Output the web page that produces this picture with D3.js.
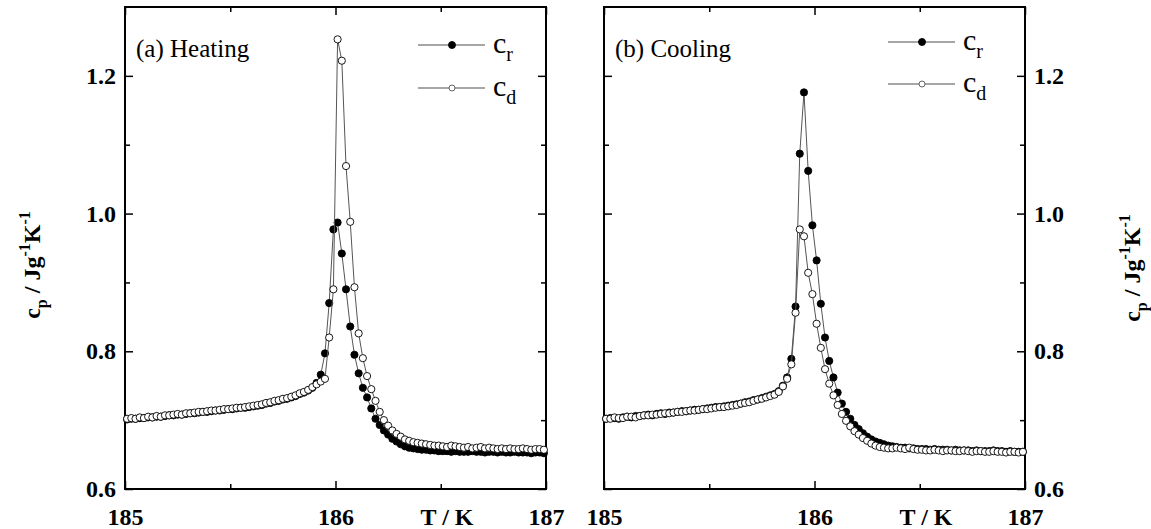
<!DOCTYPE html>
<html lang="en">
<head>
<meta charset="utf-8">
<title>cp heating / cooling</title>
<script src="https://cdn.jsdelivr.net/npm/d3@7"></script>
<style>
  * { margin: 0; padding: 0; }
  body { background: white; }
  svg { display: block; }
  .axis text { font-family: "Liberation Serif", "DejaVu Serif", serif; font-size: 24px; font-weight: bold; fill: black; }
  .axis line { stroke: black; stroke-width: 1.5px; }
  .axis path { display: none; }
  .frame { fill: none; stroke: black; stroke-width: 2px; }
  .curve { fill: none; stroke: #555; stroke-width: 1px; }
  .lbl { font-family: "Liberation Serif", "DejaVu Serif", serif; fill: black; }
</style>
</head>
<body>
<script>
// temperature grid (K)
var temps = [
  185.01,185.03,185.05,185.07,185.09,185.11,185.13,185.15,185.17,185.19,
  185.21,185.23,185.25,185.27,185.29,185.31,185.33,185.35,185.37,185.39,
  185.41,185.43,185.45,185.47,185.49,185.51,185.53,185.55,185.57,185.59,
  185.61,185.63,185.65,185.67,185.69,185.71,185.73,185.75,185.77,185.79,
  185.81,185.83,185.85,185.87,185.89,185.91,185.93,185.95,185.97,185.99,
  186.01,186.03,186.05,186.07,186.09,186.11,186.13,186.15,186.17,186.19,
  186.21,186.23,186.25,186.27,186.29,186.31,186.33,186.35,186.37,186.39,
  186.41,186.43,186.45,186.47,186.49,186.51,186.53,186.55,186.57,186.59,
  186.61,186.63,186.65,186.67,186.69,186.71,186.73,186.75,186.77,186.79,
  186.81,186.83,186.85,186.87,186.89,186.91,186.93,186.95,186.97,186.99
];

// (a) heating, c_r
var heatR = [
  0.701,0.702,0.702,0.703,0.703,0.704,0.704,0.705,0.705,0.706,
  0.707,0.707,0.708,0.708,0.709,0.710,0.710,0.711,0.712,0.712,
  0.713,0.714,0.714,0.715,0.716,0.716,0.717,0.718,0.718,0.719,
  0.720,0.721,0.722,0.724,0.725,0.727,0.728,0.730,0.731,0.733,
  0.735,0.738,0.740,0.743,0.747,0.754,0.766,0.797,0.870,0.977,
  0.987,0.942,0.890,0.836,0.795,0.768,0.747,0.733,0.717,0.702,
  0.693,0.685,0.679,0.673,0.669,0.665,0.662,0.660,0.659,0.658,
  0.657,0.657,0.656,0.656,0.655,0.655,0.655,0.654,0.655,0.654,
  0.654,0.654,0.655,0.654,0.654,0.653,0.654,0.654,0.653,0.654,
  0.653,0.653,0.654,0.653,0.653,0.653,0.652,0.653,0.653,0.652
];

// (a) heating, c_d
var heatD = [
  0.702,0.703,0.702,0.704,0.703,0.705,0.704,0.706,0.705,0.707,
  0.707,0.708,0.709,0.708,0.710,0.710,0.711,0.712,0.712,0.713,
  0.714,0.714,0.715,0.716,0.716,0.717,0.718,0.718,0.719,0.720,
  0.721,0.722,0.723,0.725,0.726,0.728,0.729,0.731,0.732,0.734,
  0.736,0.739,0.741,0.744,0.748,0.752,0.756,0.760,0.820,0.890,
  1.253,1.222,1.069,0.988,0.893,0.826,0.790,0.764,0.745,0.728,
  0.712,0.700,0.692,0.685,0.680,0.676,0.672,0.670,0.668,0.667,
  0.666,0.665,0.664,0.663,0.663,0.662,0.661,0.663,0.662,0.661,
  0.660,0.661,0.659,0.660,0.661,0.659,0.660,0.659,0.658,0.659,
  0.658,0.659,0.658,0.658,0.659,0.658,0.657,0.658,0.658,0.657
];

// (b) cooling, c_r
var coolR = [
  0.702,0.703,0.703,0.702,0.704,0.705,0.704,0.706,0.706,0.707,
  0.708,0.707,0.709,0.710,0.709,0.711,0.711,0.712,0.713,0.713,
  0.714,0.715,0.715,0.716,0.717,0.718,0.719,0.719,0.720,0.721,
  0.722,0.723,0.724,0.726,0.727,0.729,0.730,0.732,0.734,0.736,
  0.738,0.742,0.750,0.762,0.789,0.865,1.087,1.176,1.062,0.983,
  0.932,0.869,0.820,0.786,0.762,0.740,0.724,0.712,0.702,0.693,
  0.687,0.681,0.676,0.672,0.669,0.667,0.665,0.663,0.662,0.661,
  0.660,0.660,0.659,0.659,0.658,0.658,0.658,0.657,0.658,0.657,
  0.657,0.657,0.656,0.657,0.656,0.656,0.656,0.655,0.656,0.655,
  0.655,0.655,0.656,0.655,0.655,0.654,0.655,0.654,0.654,0.654
];

// (b) cooling, c_d
var coolD = [
  0.702,0.702,0.704,0.703,0.703,0.705,0.705,0.704,0.706,0.707,
  0.707,0.708,0.708,0.709,0.710,0.710,0.711,0.712,0.712,0.713,
  0.714,0.714,0.715,0.716,0.716,0.717,0.718,0.719,0.719,0.720,
  0.721,0.722,0.724,0.725,0.726,0.728,0.730,0.731,0.733,0.735,
  0.737,0.741,0.749,0.760,0.781,0.856,0.977,0.967,0.914,0.883,
  0.840,0.805,0.774,0.753,0.736,0.722,0.709,0.699,0.691,0.684,
  0.679,0.674,0.670,0.666,0.663,0.661,0.660,0.659,0.659,0.660,
  0.659,0.658,0.660,0.658,0.657,0.657,0.656,0.656,0.657,0.656,
  0.655,0.656,0.656,0.655,0.655,0.656,0.655,0.654,0.655,0.655,
  0.654,0.654,0.655,0.654,0.654,0.653,0.654,0.654,0.653,0.654
];

var xMajor = [185, 186, 187];
var xMinor = [185.5, 186.5];
var yMajor = [0.6, 0.8, 1.0, 1.2];
var yMinor = [0.7, 0.9, 1.1];
var panelTitles = ["(a) Heating", "(b) Cooling"];
var seriesNames = ["r", "d"];

var w = 1151, h = 529;
var plotTop = 7, plotBottom = 489;
var panelWidth = 421;
var panelLeft = [125, 604];

var svg = d3.select("body").append("svg")
    .attr("width", w)
    .attr("height", h);

var y = d3.scaleLinear().domain([0.6, 1.3]).range([plotBottom, plotTop]);

function drawPanel(k, rVals, dVals) {
  var x0 = panelLeft[k];
  var x = d3.scaleLinear().domain([185, 187]).range([x0, x0 + panelWidth]);
  var g = svg.append("g");

  // axes, all ticks pointing inward
  g.append("g").attr("class", "axis").attr("transform", "translate(0," + plotBottom + ")")
    .call(d3.axisBottom(x).tickValues(xMajor).tickSize(-8).tickSizeOuter(0).tickPadding(19).tickFormat(d3.format("d")));
  g.append("g").attr("class", "axis").attr("transform", "translate(0," + plotBottom + ")")
    .call(d3.axisBottom(x).tickValues(xMinor).tickSize(-5).tickSizeOuter(0).tickFormat(""));
  g.append("g").attr("class", "axis").attr("transform", "translate(0," + plotTop + ")")
    .call(d3.axisTop(x).tickValues(xMajor).tickSize(-8).tickSizeOuter(0).tickFormat(""));
  g.append("g").attr("class", "axis").attr("transform", "translate(0," + plotTop + ")")
    .call(d3.axisTop(x).tickValues(xMinor).tickSize(-5).tickSizeOuter(0).tickFormat(""));

  var leftFmt = k == 0 ? d3.format(".1f") : "";
  var rightFmt = k == 1 ? d3.format(".1f") : "";
  g.append("g").attr("class", "axis").attr("transform", "translate(" + x0 + ",0)")
    .call(d3.axisLeft(y).tickValues(yMajor).tickSize(-8).tickSizeOuter(0).tickPadding(9).tickFormat(leftFmt));
  g.append("g").attr("class", "axis").attr("transform", "translate(" + x0 + ",0)")
    .call(d3.axisLeft(y).tickValues(yMinor).tickSize(-5).tickSizeOuter(0).tickFormat(""));
  g.append("g").attr("class", "axis").attr("transform", "translate(" + (x0 + panelWidth) + ",0)")
    .call(d3.axisRight(y).tickValues(yMajor).tickSize(-8).tickSizeOuter(0).tickPadding(9).tickFormat(rightFmt));
  g.append("g").attr("class", "axis").attr("transform", "translate(" + (x0 + panelWidth) + ",0)")
    .call(d3.axisRight(y).tickValues(yMinor).tickSize(-5).tickSizeOuter(0).tickFormat(""));

  g.append("rect").attr("class", "frame")
    .attr("x", x0).attr("y", plotTop)
    .attr("width", panelWidth).attr("height", plotBottom - plotTop);

  // x axis title between 186.5 and 187
  g.append("text").attr("class", "lbl")
    .attr("x", x(186.53)).attr("y", 525)
    .attr("text-anchor", "middle")
    .style("font-size", "24px").style("font-weight", "bold")
    .text("T / K");

  // panel title
  g.append("text").attr("class", "lbl")
    .attr("x", x0 + 11).attr("y", 57)
    .style("font-size", "25px")
    .text(panelTitles[k]);

  var line = d3.line()
      .x(function(d, i) { return x(temps[i]); })
      .y(function(d) { return y(d); });

  var series = [
    {vals: rVals, fill: "black"},
    {vals: dVals, fill: "white"}
  ];

  series.forEach(function(s) {
    g.append("path").attr("class", "curve").attr("d", line(s.vals));
    g.append("g").selectAll("circle")
      .data(s.vals)
      .enter().append("circle")
      .attr("cx", function(d, i) { return x(temps[i]); })
      .attr("cy", function(d) { return y(d); })
      .attr("r", 3.6)
      .attr("fill", s.fill)
      .attr("stroke", "black")
      .attr("stroke-width", 0.9);
  });

  // legend
  var legX = [x0 + 293, x0 + 284][k];
  var legY = [[45, 88], [42, 84]][k];
  series.forEach(function(s, j) {
    var lg = g.append("g").attr("transform", "translate(" + legX + "," + legY[j] + ")");
    lg.append("line").attr("x1", 0).attr("x2", 67).attr("y1", 0).attr("y2", 0)
      .attr("stroke", "#888").attr("stroke-width", 1.5);
    lg.append("circle").attr("cx", 34).attr("cy", 0).attr("r", j == 0 ? 3.5 : 3)
      .attr("fill", s.fill).attr("stroke", j == 0 ? "black" : "#555").attr("stroke-width", 0.9);
    var t = lg.append("text").attr("class", "lbl").attr("x", 75).attr("y", 8)
      .style("font-size", "30px");
    t.append("tspan").text("c");
    t.append("tspan").attr("dy", 8).style("font-size", "20px").text(seriesNames[j]);
  });
}

drawPanel(0, heatR, heatD);
drawPanel(1, coolR, coolD);

// y axis titles, both read bottom to top
function yTitle(cx, cy) {
  var t = svg.append("text").attr("class", "lbl")
    .attr("transform", "translate(" + cx + "," + cy + ") rotate(-90)")
    .attr("text-anchor", "middle")
    .style("font-size", "24px").style("font-weight", "bold");
  t.append("tspan").text("c");
  t.append("tspan").attr("dy", 7).style("font-size", "16px").text("p");
  t.append("tspan").attr("dy", -7).text(" / Jg");
  t.append("tspan").attr("dy", -10).style("font-size", "16px").text("-1");
  t.append("tspan").attr("dy", 10).text("K");
  t.append("tspan").attr("dy", -10).style("font-size", "16px").text("-1");
}
yTitle(40, 265);
yTitle(1140, 268);
</script>
</body>
</html>
